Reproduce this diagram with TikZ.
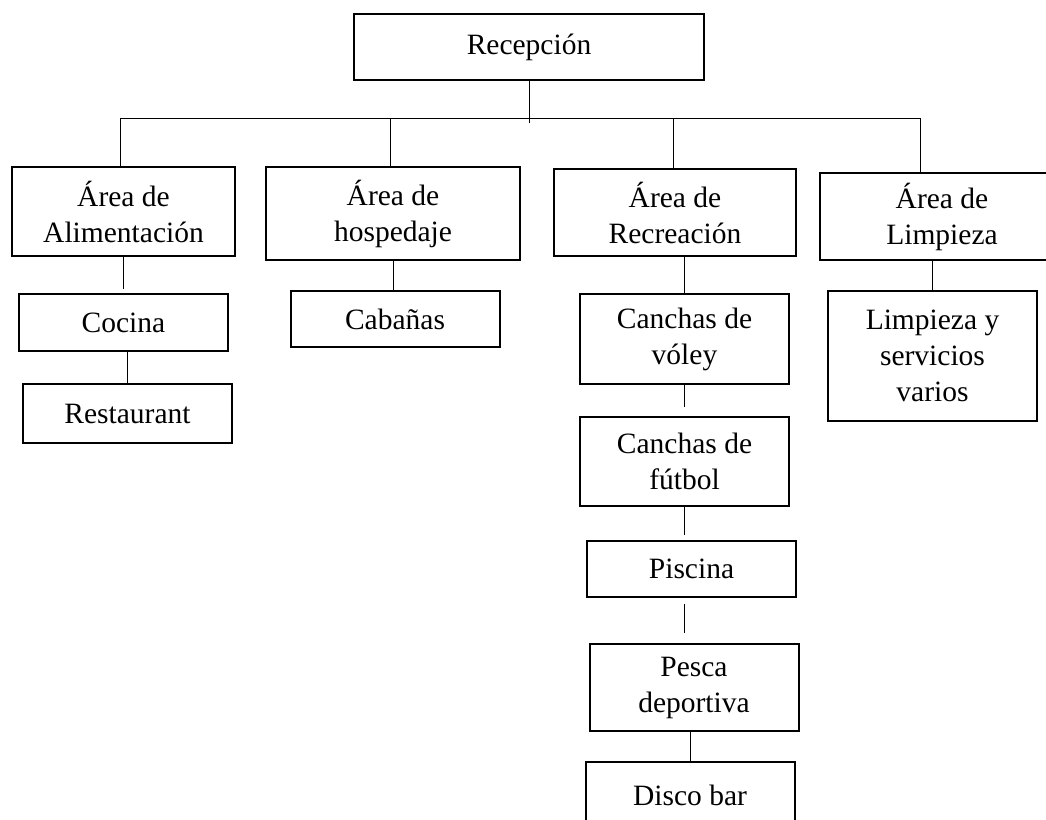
\documentclass[tikz,border=0pt]{standalone}
\usepackage{fontspec}
\setmainfont{Liberation Serif}
\usetikzlibrary{positioning}

\begin{document}
\begin{tikzpicture}[x=1pt,y=-1pt,
    box/.style={draw,line width=2pt,align=center,inner sep=0pt,
      font=\fontsize{29.5}{36}\selectfont},
    leaf/.style={box,minimum width=209pt},
    link/.style={line width=1pt}]
   \clip (0,0) rectangle (1046,819);
   \node[box,minimum width=350pt,minimum height=66pt] (rec) at (529,47) {Recepción};
   \node[box,minimum width=223pt,minimum height=89pt] (alim) at (123.5,211.5) {Área de\\Alimentación};
   \node[box,minimum width=254pt,minimum height=93pt] (hosp) at (393,213.5) {Área de\\hospedaje};
   \node[box,minimum width=242pt,minimum height=87pt] (recr) at (675,212.5) {Área de\\Recreación};
   \node[box,minimum width=244pt,minimum height=87pt] (limp) at (942,216.5) {Área de\\Limpieza};
   \node[leaf,minimum height=57pt] (cocina) [below=36pt of alim] {Cocina};
   \node[leaf,minimum height=59pt] (rest) [below=31pt of cocina,xshift=4pt] {Restaurant};
   \node[leaf,minimum height=56pt] (cab) [below=29pt of hosp,xshift=2pt] {Cabañas};
   \node[leaf,minimum height=90pt] (voley) [below=36pt of recr,xshift=9.5pt] {Canchas de\\vóley};
   \node[leaf,minimum height=89pt] (futbol) [below=31pt of voley] {Canchas de\\fútbol};
   \node[leaf,minimum height=56pt] (piscina) [below=33pt of futbol,xshift=7pt] {Piscina};
   \node[leaf,minimum height=87pt] (pesca) [below=45pt of piscina,xshift=2.5pt] {Pesca\\deportiva};
   \node[leaf,minimum height=66pt] (disco) [below=29pt of pesca,xshift=-4pt] {Disco bar};
   \node[leaf,minimum height=130pt] (serv) [below=29pt of limp,xshift=-9.5pt] {Limpieza y\\servicios\\varios};

   % tronco y barra
   \coordinate (trunk) at ([yshift=-42pt]rec.south);
   \coordinate (bus) at ([yshift=-37pt]rec.south);
   \draw[link] (rec.south) -- (trunk);
   \draw[link] ([xshift=-3pt]alim.north |- bus) -- ([xshift=-22pt]limp.north |- bus);
   \foreach \n/\dx in {alim/-3,hosp/-3,recr/-2,limp/-22}
      \draw[link] ([xshift=\dx pt]\n.north) -- ([xshift=\dx pt]\n.north |- bus);

   \path[link]
    (alim.south) edge[shorten >=4pt] (alim.south |- cocina.north)
    (cocina.south -| rest.north) edge (rest.north)
    (hosp.south) edge (hosp.south |- cab.north)
    (recr.south -| voley.north) edge (voley.north)
    (voley.south) edge[shorten >=9pt] (voley.south |- futbol.north)
    (futbol.south) edge[shorten >=5pt] (futbol.south |- piscina.north)
    (piscina.south -| futbol.south) edge[shorten <=6pt,shorten >=10pt] (pesca.north -| futbol.south)
    (pesca.south -| disco.north) edge (disco.north)
    (limp.south -| serv.north) edge (serv.north);
\end{tikzpicture}
\end{document}
